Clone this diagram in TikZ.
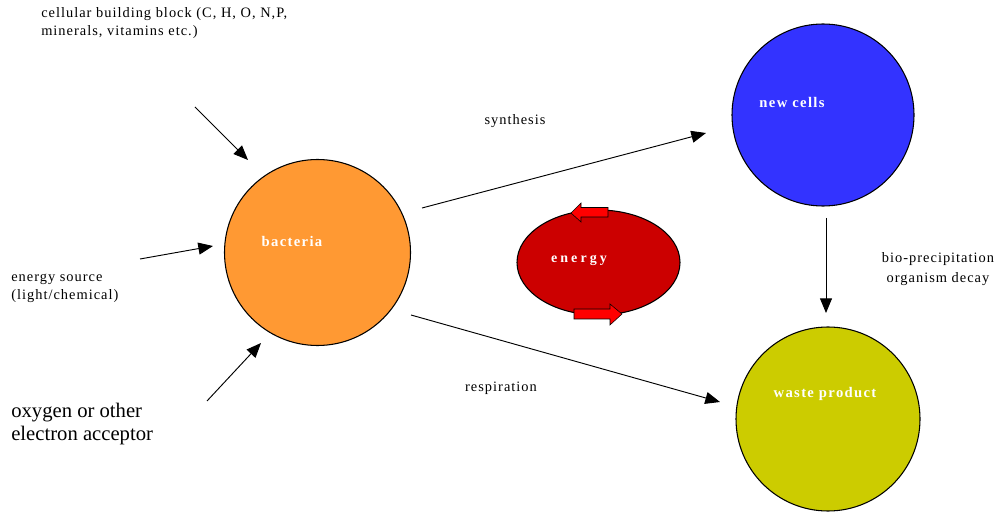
\documentclass[tikz,border=0pt]{standalone}
\usepackage{fontspec}
\setmainfont{Liberation Serif}
\usetikzlibrary{arrows.meta,shapes.geometric}
\definecolor{orangebac}{HTML}{FF9933}
\definecolor{bluecell}{HTML}{3333FF}
\definecolor{redenergy}{HTML}{CC0000}
\definecolor{yellowwaste}{HTML}{CCCC00}
\definecolor{redarrow}{HTML}{FF0000}
\newfontfamily\spacedserif[LetterSpace=7]{Liberation Serif}
\newfontfamily\spacedbold[LetterSpace=9]{Liberation Serif}
\newfontfamily\widebold[LetterSpace=22]{Liberation Serif}
\begin{document}
\begin{tikzpicture}[x=0.75pt,y=-0.75pt,
  blob/.style={draw=black,line width=0.8pt},
  inlabel/.style={text=white,font=\spacedbold\fontsize{11}{13}\selectfont\bfseries},
  caption/.style={font=\spacedserif\fontsize{10.8}{13.5}\selectfont,align=left,inner sep=0pt},
  flow/.style={draw=black,line width=0.7pt,-{Triangle[length=11pt,width=9pt]}},
  blockarrow/.style={fill=redarrow,draw=black,line width=0.4pt}
]
\useasboundingbox (0,0) rectangle (996,513);

% main cells
\node[blob,circle,fill=orangebac,minimum size=186*0.75pt,inner sep=0pt] (bac) at (317.5,252.5) {};
\node[blob,circle,fill=bluecell,minimum size=182*0.75pt,inner sep=0pt] (new) at (823,115) {};
\node[blob,circle,fill=yellowwaste,minimum size=184*0.75pt,inner sep=0pt] (waste) at (828,419) {};
\node[blob,ellipse,fill=redenergy,minimum width=163*0.75pt,minimum height=105*0.75pt,inner sep=0pt] (en) at (598.5,262.5) {};

% labels inside the shapes
\node[inlabel] (bacl) at (292,241) {bacteria};
\node[inlabel] (newl) at (792,102) {new cells};
\node[inlabel] (wastel) at (825,394) {waste product};
\node[inlabel,font=\widebold\fontsize{10.5}{12}\selectfont\bfseries] (enl) at (579,260) {energy};

% small block arrows around the energy ellipse
\path[blockarrow] (571,213) -- (581,203) -- (581,207.5) -- (608,207.5) -- (608,217) -- (581,217) -- (581,222) -- cycle;
\path[blockarrow] (622,314) -- (610,304) -- (610,309) -- (574,309) -- (574,319) -- (610,319) -- (610,325) -- cycle;

% captions
\node[caption,anchor=north west] (cbb) at (41,7) {cellular building block (C, H, O, N,P,\\minerals, vitamins etc.)};
\node[caption,anchor=north west] (esrc) at (11,274) {energy source\\(light/chemical)};
\node[caption,anchor=north west,font=\fontsize{15.5}{17.5}\selectfont] (oxy) at (11,403) {oxygen or other\\electron acceptor};
\node[caption,anchor=center,align=center,font=\spacedserif\fontsize{10.8}{15}\selectfont] (bio) at (938,269) {bio-precipitation\\organism decay};
\node[caption] (syn) at (515,121) {synthesis};
\node[caption] (resp) at (501,388) {respiration};

% free ends of the arrows
\coordinate (inA) at (195,107);
\coordinate (inB) at (140,259);
\coordinate (inC) at (207,401);
\coordinate (outS) at (422,208);
\coordinate (outR) at (411,315);
\coordinate (tipS) at (706,133);
\coordinate (tipR) at (720,402);
\coordinate (downA) at (826,218);
\coordinate (downB) at (826,313);

\draw[flow] (inA) -- (248,160);
\draw[flow] (inB) -- (213,246);
\draw[flow] (inC) -- (261,343);
\draw[flow] (outS) -- (tipS);
\draw[flow] (outR) -- (tipR);
\draw[flow] (downA) -- (downB);
\end{tikzpicture}
\end{document}
